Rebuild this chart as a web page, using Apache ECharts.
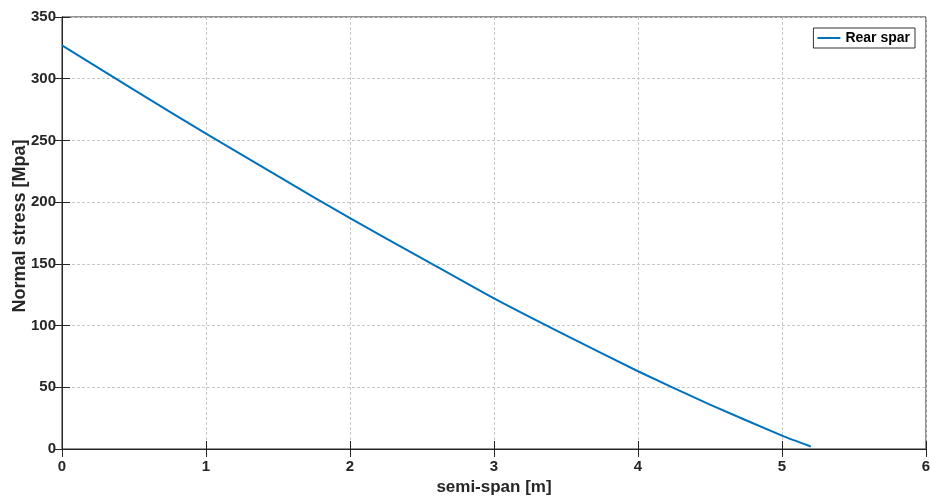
<!DOCTYPE html>
<html>
<head>
<meta charset="utf-8">
<script src="https://cdn.jsdelivr.net/npm/echarts@6/dist/echarts.min.js"></script>
<style>
  html, body { margin: 0; padding: 0; background: #ffffff; }
  #chart { width: 930px; height: 500px; }
</style>
</head>
<body>
<div id="chart"></div>
<script>
// Semi-span positions [m] and normal stress in the rear spar [MPa]
const spanPositions = [0, 0.5, 1, 1.5, 2, 2.5, 3, 3.5, 4, 4.5, 5, 5.2];
const rearSparStress = [327, 291, 255.5, 221, 187, 154.5, 122, 92, 63, 36, 10.8, 2];

const xTicks = { min: 0, max: 6, interval: 1 };
const yTicks = { min: 0, max: 350, interval: 50 };

const axisColor = '#262626';
const font = 'Liberation Sans, Arial, Helvetica, sans-serif';
const gridLine = { show: true, lineStyle: { color: '#c8c8c8', type: [3, 2], width: 1 } };

const chart = echarts.init(document.getElementById('chart'), null, { renderer: 'canvas' });

const labelStyle = { color: axisColor, fontFamily: font, fontWeight: 'bold', fontSize: 15 };
const tickStyle = { show: true, inside: true, length: 8, lineStyle: { color: axisColor } };

chart.setOption({
  animation: false,
  backgroundColor: '#ffffff',
  grid: {
    left: 62, right: 4, top: 17, bottom: 51,
    outerBoundsMode: 'none', containLabel: false,
    show: true, borderColor: axisColor, borderWidth: 1, backgroundColor: 'transparent'
  },
  legend: {
    right: 15, top: 28,
    orient: 'vertical',
    backgroundColor: '#ffffff',
    borderColor: '#333333', borderWidth: 1, borderRadius: 0,
    padding: [3, 5, 3, 4],
    itemWidth: 23, itemHeight: 2, itemGap: 4,
    icon: 'rect',
    textStyle: { color: '#000000', fontFamily: font, fontWeight: 'bold', fontSize: 14 },
    data: ['Rear spar']
  },
  xAxis: [{
    type: 'value', min: xTicks.min, max: xTicks.max, interval: xTicks.interval,
    name: 'semi-span [m]', nameLocation: 'middle', nameGap: 30, nameMoveOverlap: false,
    nameTextStyle: { color: axisColor, fontFamily: font, fontWeight: 'bold', fontSize: 17 },
    axisLine: { show: true, onZero: false, lineStyle: { color: axisColor, width: 1 } },
    axisTick: tickStyle,
    axisLabel: Object.assign({ margin: 10 }, labelStyle),
    splitLine: gridLine
  }, {
    type: 'value', position: 'top', min: xTicks.min, max: xTicks.max, interval: xTicks.interval,
    axisLine: { show: true, lineStyle: { color: axisColor, width: 1 } },
    axisTick: tickStyle,
    axisLabel: { show: false }, splitLine: { show: false }
  }],
  yAxis: [{
    type: 'value', min: yTicks.min, max: yTicks.max, interval: yTicks.interval,
    name: 'Normal stress [Mpa]', nameLocation: 'middle', nameGap: 33, nameMoveOverlap: false,
    nameTextStyle: { color: axisColor, fontFamily: font, fontWeight: 'bold', fontSize: 18, padding: [0, 0, 0, 14] },
    axisLine: { show: true, onZero: false, lineStyle: { color: axisColor, width: 1 } },
    axisTick: tickStyle,
    axisLabel: Object.assign({ margin: 6 }, labelStyle),
    splitLine: gridLine
  }, {
    type: 'value', position: 'right', min: yTicks.min, max: yTicks.max, interval: yTicks.interval,
    axisLine: { show: true, lineStyle: { color: axisColor, width: 1 } },
    axisTick: tickStyle,
    axisLabel: { show: false }, splitLine: { show: false }
  }],
  series: [{
    name: 'Rear spar',
    type: 'line',
    data: spanPositions.map((x, i) => [x, rearSparStress[i]]),
    showSymbol: false,
    smooth: 0.2,
    lineStyle: { color: '#0072BD', width: 2 },
    itemStyle: { color: '#0072BD' }
  }]
});
</script>
</body>
</html>
